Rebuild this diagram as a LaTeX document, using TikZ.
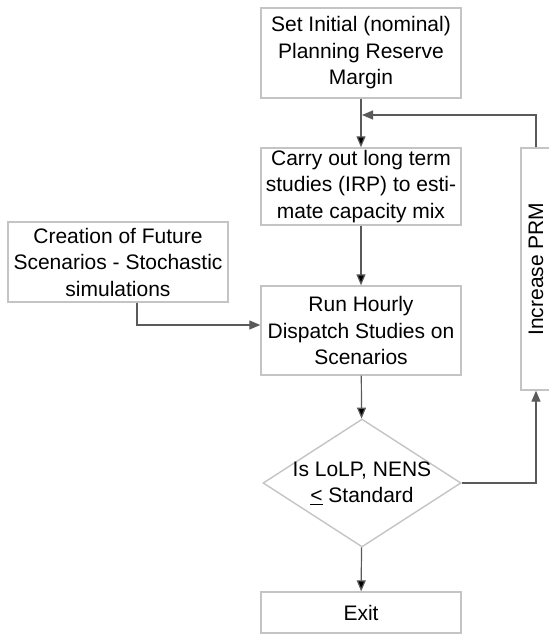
\documentclass[tikz,border=0pt]{standalone}
\usepackage{fontspec}
\setmainfont{Liberation Sans}
\usetikzlibrary{arrows.meta,shapes.geometric}
\definecolor{boxgray}{HTML}{C4C4C4}
\definecolor{linegray}{HTML}{5A5A5A}
\begin{document}
\begin{tikzpicture}[x=1pt,y=-1pt,>={Triangle[length=11pt,width=9pt]},
    box/.style={draw=boxgray,line width=1.4pt,align=center,inner sep=0pt,
      font=\fontsize{21}{26.5}\selectfont,minimum width=200pt},
    decision/.style={box,diamond,aspect=1.55,minimum width=198pt,minimum height=128pt,inner sep=-4pt},
    line/.style={draw=linegray,line width=1.2pt}]
    \useasboundingbox (0,0) rectangle (549,635);
    \clip (0,0) rectangle (549,635);
    \node[box,minimum height=90pt] (init) at (361,53) {Set Initial (nominal)\\Planning Reserve\\Margin};
    \node[box,minimum height=77pt] (irp) at (361,186.5) {Carry out long term\\studies (IRP) to esti-\\mate capacity mix};
    \node[box,minimum width=220pt,minimum height=80pt] (scen) at (118,262) {Creation of Future\\Scenarios - Stochastic\\simulations};
    \node[box,minimum height=89pt] (disp) at (361,330.5) {Run Hourly\\Dispatch Studies on\\Scenarios};
    \node[decision] (lolp) at (362,483) {Is LoLP, NENS\\\underline{<} Standard};
    \node[box,minimum height=41pt] (exit) at (361,612.5) {Exit};
    \node[box,minimum width=30pt,minimum height=242pt] (prm) at (536,269) {\rotatebox{90}{Increase PRM}};
    \coordinate (join) at (362,115);
    \path[line,->] (init) edge (irp);
    \path[line,->] (irp) edge (disp);
    \path[line,->] (disp) edge (lolp);
    \path[line,->] (lolp) edge (exit);
    \draw[line,->] ([xshift=19pt]scen.south) |- ([yshift=5.5pt]disp.west);
    \draw[line,->] (lolp.east) -| (prm.south);
    \draw[line,->] (prm.north) |- (join);
\end{tikzpicture}
\end{document}
